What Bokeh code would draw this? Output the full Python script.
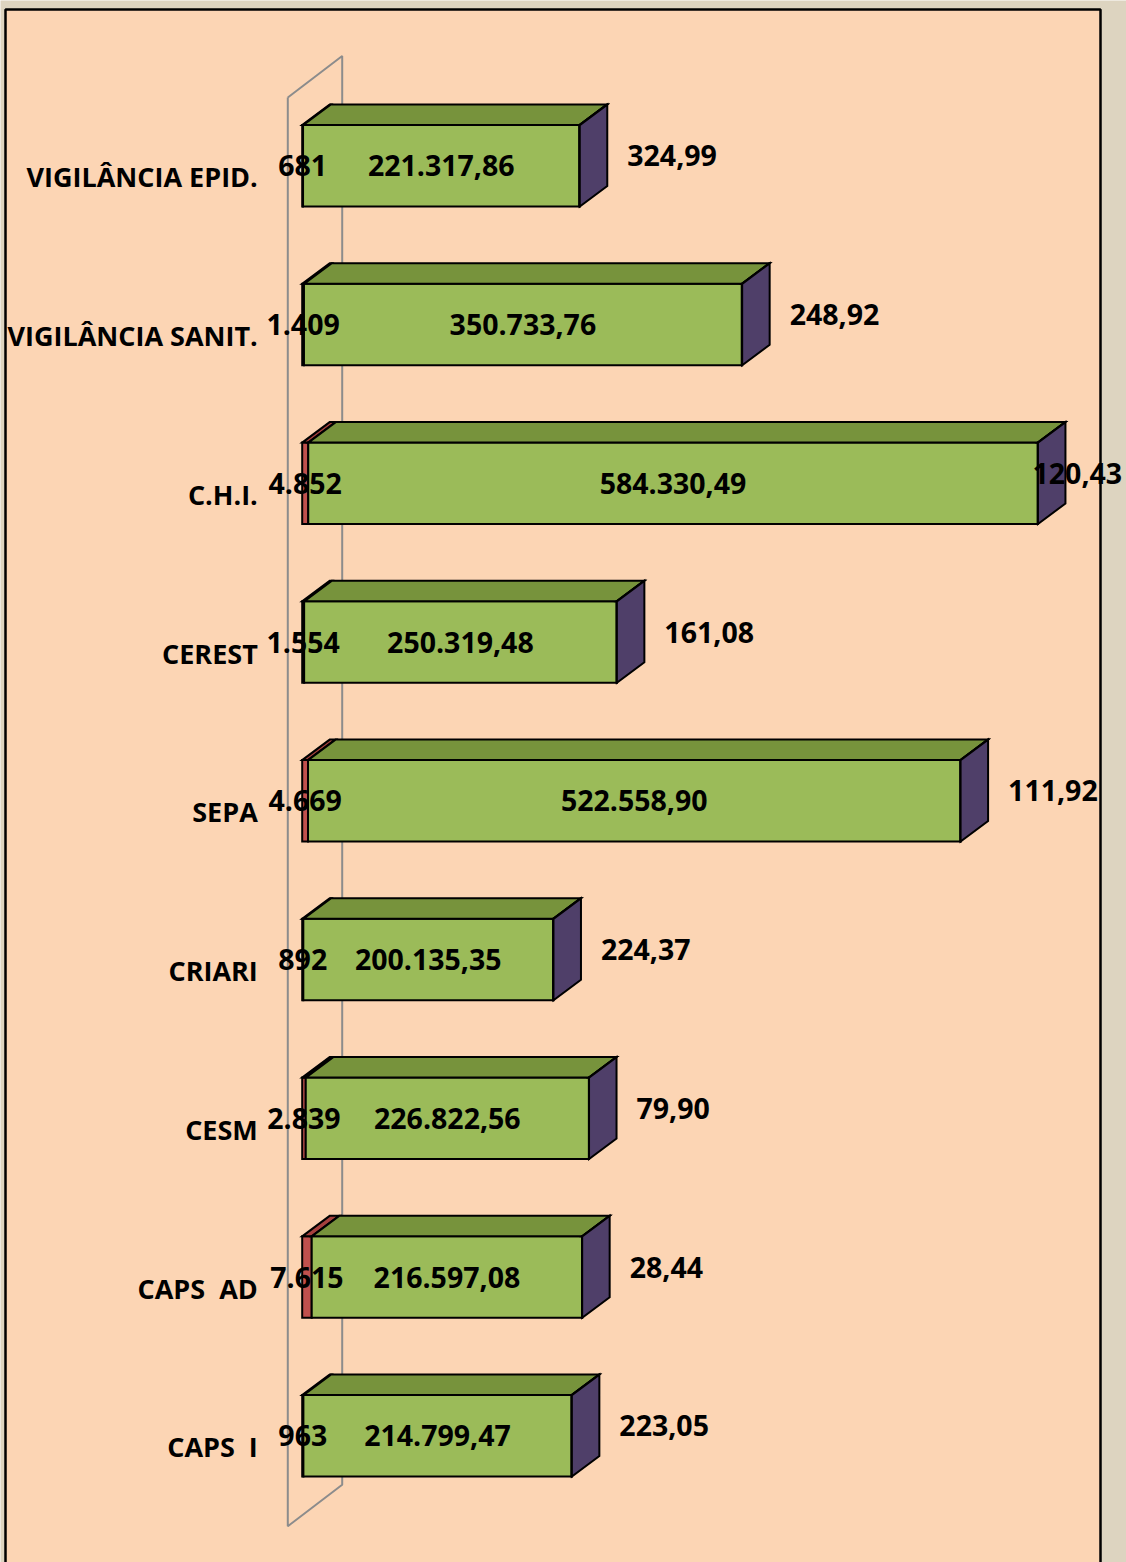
import numpy as np
from bokeh.plotting import figure
from bokeh.models import ColumnDataSource, Range1d
from bokeh.core.properties import value
from bokeh.embed import file_html
from bokeh.resources import INLINE

# ---------------- data ----------------
categories = ["VIGILÂNCIA EPID.", "VIGILÂNCIA SANIT.", "C.H.I.", "CEREST", "SEPA",
              "CRIARI", "CESM", "CAPS\u00a0\u00a0AD", "CAPS\u00a0\u00a0I"]
series1 = [681, 1409, 4852, 1554, 4669, 892, 2839, 7615, 963]
series2 = [221317.86, 350733.76, 584330.49, 250319.48, 522558.90,
           200135.35, 226822.56, 216597.08, 214799.47]
series3 = [324.99, 248.92, 120.43, 161.08, 111.92, 224.37, 79.90, 28.44, 223.05]


def fmt_int(v):
    return f"{v:,.0f}".replace(",", ".")


def fmt_dec(v):
    return f"{v:,.2f}".replace(",", "X").replace(".", ",").replace("X", ".")


# ---------------- styling / geometry constants ----------------
W, H = 1126, 1562
UX = 800.96            # data units per screen pixel (x)
UY = 1.0 / 158.75      # category units per screen pixel (y)
X0_PX, Y0_PX = 287.3, 176.3   # position of value 0 / first category inside the figure

FONT = value("Open Sans")
FSIZE_CAT = "27px"
FSIZE_VAL = "28.5px"

FRONT_DX, FRONT_DY = 14.4 * UX, -11.0 * UY   # bar front plane offset from the wall plane
DEP_DX, DEP_DY = 27.5 * UX, -20.5 * UY       # bar depth
HALF = 40.7 * UY                               # half bar height
WALL_DX, WALL_DY = 54.4 * UX, -41.5 * UY

COL_FRONT = ["#C0504D", "#9BBB59", "#8064A2"]
COL_TOP = ["#A5403D", "#77933C", "#604A7B"]
COL_SIDE = "#4F3F69"

x_range = Range1d(-X0_PX * UX, (W - X0_PX) * UX)
y_range = Range1d((H - Y0_PX) * UY, -Y0_PX * UY)   # reversed: first category on top

p = figure(width=W, height=H, x_range=x_range, y_range=y_range,
           output_backend="svg", toolbar_location=None,
           min_border=0, min_border_left=0, min_border_right=0,
           min_border_top=0, min_border_bottom=0)
p.axis.visible = False
p.grid.visible = False
p.outline_line_color = None
p.background_fill_color = "#DDD4C0"
p.border_fill_color = "#DDD4C0"

# chart area (peach box)
p.quad(left=[(5 - X0_PX) * UX], right=[(1100 - X0_PX) * UX],
       top=[(9 - Y0_PX) * UY], bottom=[(H + 20 - Y0_PX) * UY],
       fill_color="#FCD5B4", line_color="black", line_width=2.5)

# back wall of the 3-D chart
n = len(categories)
wall_x = [0, WALL_DX, WALL_DX, 0, 0]
wall_y = [-0.5, -0.5 + WALL_DY, n - 0.5 + WALL_DY, n - 0.5, -0.5]
p.line(wall_x, wall_y, line_color="#8C8C8C", line_width=2)

# 3-D stacked bars
xs, ys, fills = [], [], []
for i in range(n):
    vals = [series1[i], series2[i], series3[i]]
    yc = i + FRONT_DY
    yt, yb = yc - HALF, yc + HALF
    start = FRONT_DX
    for k, v in enumerate(vals):
        end = start + v
        xs.append([start, end, end, start]); ys.append([yt, yt, yb, yb]); fills.append(COL_FRONT[k])
        xs.append([start, end, end + DEP_DX, start + DEP_DX])
        ys.append([yt, yt, yt + DEP_DY, yt + DEP_DY]); fills.append(COL_TOP[k])
        start = end
    xs.append([start, start + DEP_DX, start + DEP_DX, start])
    ys.append([yt, yt + DEP_DY, yb + DEP_DY, yb]); fills.append(COL_SIDE)

p.patches(xs="xs", ys="ys", fill_color="fills", line_color="black", line_width=2,
          line_join="miter", source=ColumnDataSource(dict(xs=xs, ys=ys, fills=fills)))

# category labels
p.text(x=[-30 * UX] * n, y=list(range(n)), text=categories,
       text_font=FONT, text_font_style="bold", text_font_size=FSIZE_CAT,
       text_align="right", text_baseline="middle", text_color="black")

# value labels
c1 = [FRONT_DX + v / 2 for v in series1]
c2 = [FRONT_DX + a + b / 2 for a, b in zip(series1, series2)]
yfront = [i + FRONT_DY for i in range(n)]
p.text(x=c1, y=yfront, text=[fmt_int(v) for v in series1],
       text_font=FONT, text_font_style="bold", text_font_size=FSIZE_VAL,
       text_align="center", text_baseline="middle", text_color="black")
p.text(x=c2, y=yfront, text=[fmt_dec(v) for v in series2],
       text_font=FONT, text_font_style="bold", text_font_size=FSIZE_VAL,
       text_align="center", text_baseline="middle", text_color="black")

label_max = (1032 - X0_PX) * UX
c3 = [min(FRONT_DX + a + b + c + DEP_DX + 20 * UX, label_max)
      for a, b, c in zip(series1, series2, series3)]
p.text(x=c3, y=[i + FRONT_DY - 10 * UY for i in range(n)], text=[fmt_dec(v) for v in series3],
       text_font=FONT, text_font_style="bold", text_font_size=FSIZE_VAL,
       text_align="left", text_baseline="middle", text_color="black")

open("out.html", "w").write(file_html(p, INLINE))
